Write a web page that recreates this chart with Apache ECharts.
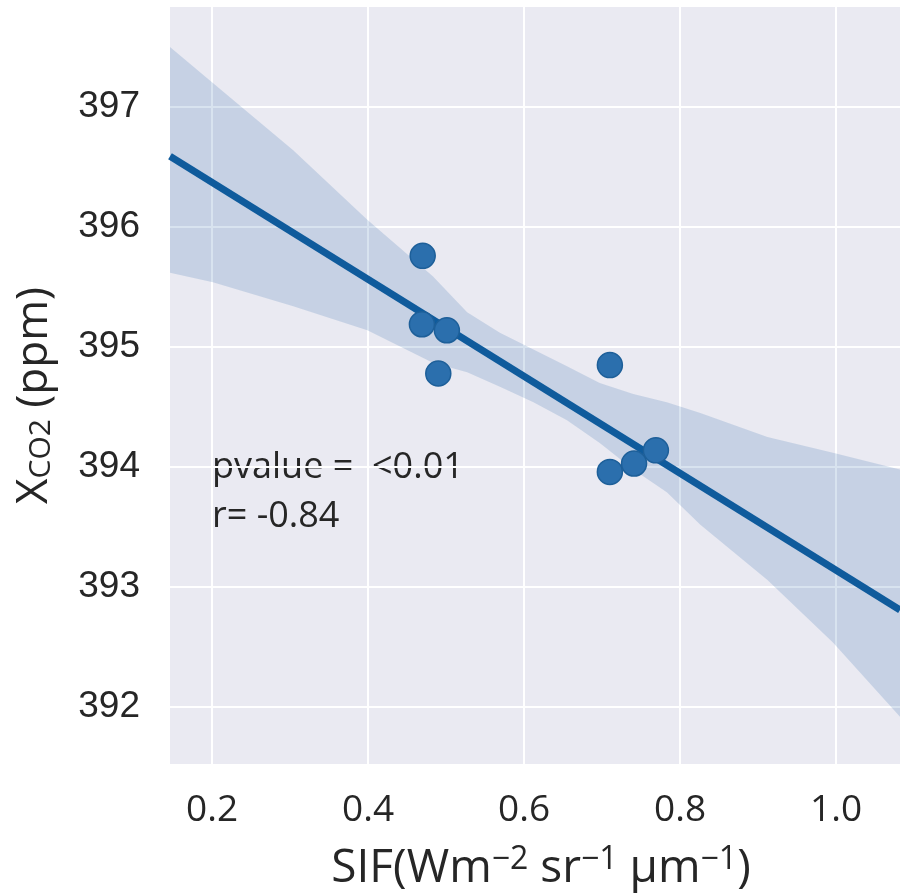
<!DOCTYPE html>
<html>
<head>
<meta charset="utf-8">
<script src="https://cdn.jsdelivr.net/npm/echarts@6/dist/echarts.min.js"></script>
<style>html,body{margin:0;padding:0;background:#fff;}#chart{width:900px;height:894px;}</style>
</head>
<body>
<div id="chart"></div>
<script>
// Observations (SIF, XCO2)
const sifValues = [0.470, 0.469, 0.501, 0.490, 0.710, 0.710, 0.741, 0.769];
const xco2Values = [395.76, 395.19, 395.14, 394.78, 394.85, 393.96, 394.03, 394.14];

// Regression line end points
const fitX = [0.146, 1.082];
const fitY = [396.59, 392.81];

// Confidence band edges
const bandX = [0.146, 0.201, 0.304, 0.399, 0.483, 0.527, 0.569, 0.612, 0.655, 0.697, 0.740, 0.783, 0.826, 0.912, 0.996, 1.082];
const bandUpper = [397.50, 397.20, 396.64, 396.06, 395.59, 395.29, 395.12, 394.98, 394.84, 394.70, 394.61, 394.54, 394.45, 394.25, 394.12, 393.98];
const bandLower = [395.62, 395.54, 395.34, 395.14, 394.87, 394.79, 394.67, 394.54, 394.39, 394.20, 393.98, 393.79, 393.52, 393.06, 392.54, 391.92];

// Axis ticks
const xTicks = [0.2, 0.4, 0.6, 0.8, 1.0];
const yTicks = [392, 393, 394, 395, 396, 397];
const xRange = [0.146, 1.082];
const yRange = [391.527, 397.833];

const annotationLines = ['pvalue =  <0.01', 'r= -0.84'];

const chart = echarts.init(document.getElementById('chart'), null, {renderer: 'canvas'});

const points = sifValues.map((x, i) => [x, xco2Values[i]]);
const fitData = fitX.map((x, i) => [x, fitY[i]]);
const bandData = bandX.map((x, i) => [x, bandUpper[i], bandLower[i]]);

const textColor = '#262626';

const option = {
  animation: false,
  backgroundColor: '#ffffff',
  grid: {left: 170, top: 7, right: 0, bottom: 130, show: true, backgroundColor: '#eaeaf2', borderWidth: 0,
    containLabel: false, outerBoundsMode: 'none'},
  xAxis: {
    type: 'value', min: xRange[0], max: xRange[1],
    axisLine: {show: false}, 
    axisTick: {show: false, customValues: xTicks},
    splitLine: {show: true, lineStyle: {color: '#ffffff', width: 2}},
    axisLabel: {customValues: xTicks, color: textColor, fontFamily: 'Open Sans', fontSize: 37, margin: 28,
      formatter: v => v.toFixed(1)},
    name: '{b|SIF(Wm}{s|−2}{b| sr}{s|−1}{b| μm}{s|−1}{b|)}',
    nameLocation: 'middle', nameGap: 80,
    nameTextStyle: {
      padding: [0, 0, 0, 12],
      rich: {
        b: {fontFamily: 'Open Sans', fontSize: 46, color: textColor, verticalAlign: 'bottom'},
        s: {fontFamily: 'Open Sans', fontSize: 32, color: textColor, verticalAlign: 'top', padding: [0, 0, 16, 0]}
      }
    }
  },
  yAxis: {
    type: 'value', min: yRange[0], max: yRange[1],
    axisLine: {show: false},
    axisTick: {show: false, customValues: yTicks},
    splitLine: {show: true, lineStyle: {color: '#ffffff', width: 2}},
    axisLabel: {customValues: yTicks, color: textColor, fontFamily: 'Liberation Sans', fontSize: 37, margin: 30},
    name: '{b|X}{s|CO2}{b| (ppm)}',
    nameLocation: 'middle', nameGap: 114, nameRotate: 90,
    nameTextStyle: {
      padding: [0, 20, 0, 0],
      rich: {
        b: {fontFamily: 'Open Sans', fontSize: 44, color: textColor},
        s: {fontFamily: 'Open Sans', fontSize: 30, color: textColor, verticalAlign: 'bottom'}
      }
    }
  },
  series: [
    {
      type: 'custom',
      silent: true,
      z: 1,
      data: bandData,
      renderItem: function (params, api) {
        if (params.dataIndex !== 0) return null;
        const pts = [];
        for (let i = 0; i < bandData.length; i++) pts.push(api.coord([bandData[i][0], bandData[i][1]]));
        for (let i = bandData.length - 1; i >= 0; i--) pts.push(api.coord([bandData[i][0], bandData[i][2]]));
        return {type: 'polygon', shape: {points: pts}, style: {fill: 'rgba(40,100,165,0.18)', stroke: 'none'}};
      }
    },
    {
      type: 'line', data: fitData, showSymbol: false, z: 3,
      lineStyle: {color: '#0f5b9c', width: 7}
    },
    {
      type: 'scatter', data: points, symbolSize: 25, z: 4,
      itemStyle: {color: '#2b6fad', opacity: 1, borderColor: '#1d5f99', borderWidth: 1.5}
    }
  ],
  graphic: [
    {type: 'text', left: 212, top: 450, style: {text: annotationLines[0], fontFamily: 'Open Sans', fontSize: 36, fill: textColor}},
    {type: 'text', left: 212, top: 499, style: {text: annotationLines[1], fontFamily: 'Open Sans', fontSize: 36, fill: textColor}}
  ]
};
chart.setOption(option);
</script>
</body>
</html>
